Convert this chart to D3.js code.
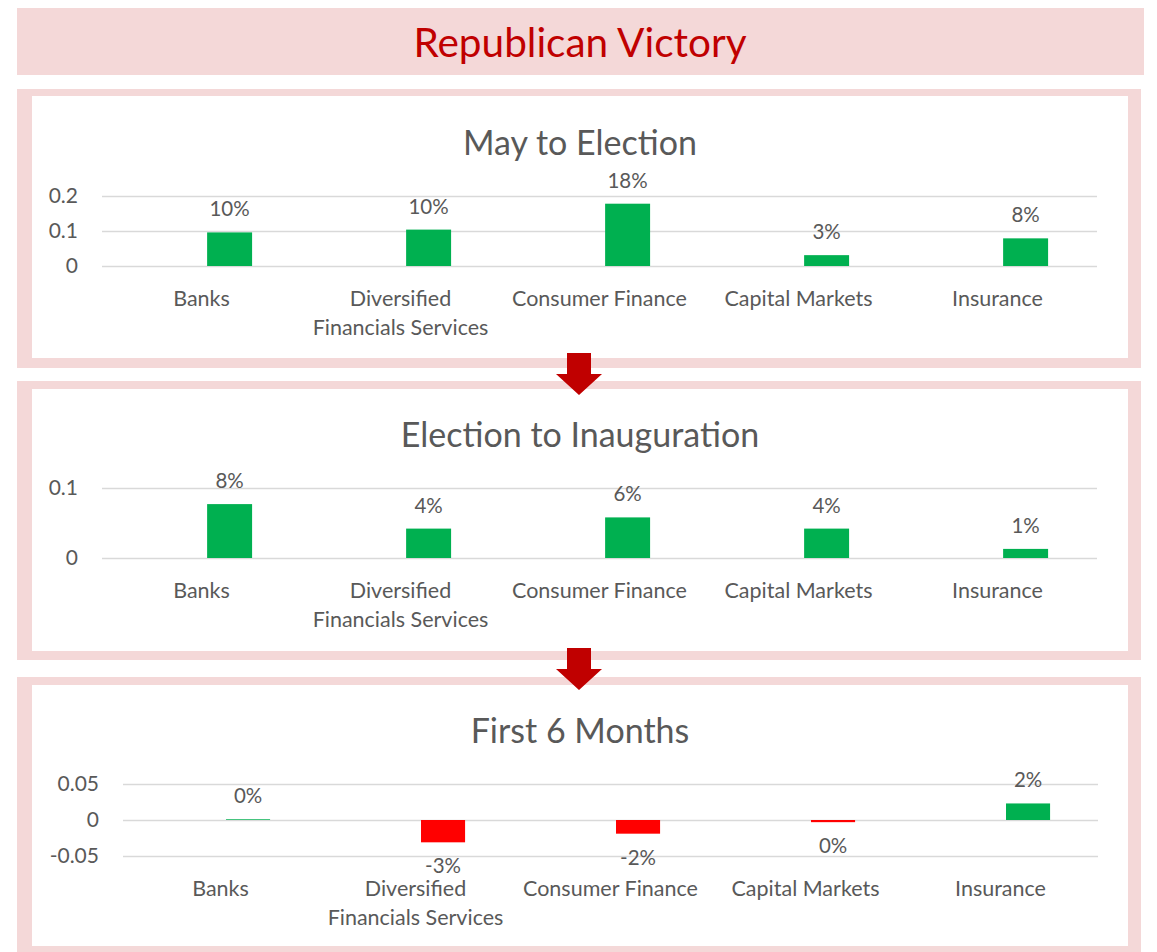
<!DOCTYPE html>
<html>
<head>
<meta charset="utf-8">
<script src="https://cdn.jsdelivr.net/npm/d3@7"></script>
<style>
  body { margin: 0; background: #fff; }
  svg text { font-family: Lato, "Open Sans", sans-serif; fill: #595959; }
</style>
</head>
<body>
<div id="chart"></div>
<script>
// categories and values
var categories = ["Banks", "Diversified Financials Services", "Consumer Finance", "Capital Markets", "Insurance"];
var mayToElection = [0.096, 0.104, 0.178, 0.031, 0.079];
var electionToInauguration = [0.077, 0.042, 0.058, 0.042, 0.013];
var firstSixMonths = [0.001, -0.031, -0.019, -0.003, 0.023];

var ticksMay = [0, 0.1, 0.2];
var ticksElection = [0, 0.1];
var ticksFirst = [-0.05, 0, 0.05];

var pageTitle = "Republican Victory";
var chartTitles = ["May to Election", "Election to Inauguration", "First 6 Months"];

var pink = "#f4d8d8",
    green = "#00b050",
    red = "#ff0000",
    grid = "#d9d9d9";

// hyphen minus like Excel
var loc = d3.formatLocale({ decimal: ".", thousands: ",", grouping: [3], currency: ["$", ""], minus: "-" });
var pct = loc.format(".0%"),
    num = loc.format(".2~f");

var svg = d3.select("#chart").append("svg")
    .attr("width", 1157)
    .attr("height", 952);

// page title box
svg.append("rect")
    .attr("x", 17).attr("y", 8)
    .attr("width", 1127).attr("height", 67)
    .attr("fill", pink);
svg.append("text")
    .attr("x", 580).attr("y", 41)
    .attr("text-anchor", "middle")
    .attr("dominant-baseline", "central")
    .style("font-size", "40.5px")
    .style("fill", "#c00000")
    .text(pageTitle);

// one panel per period
var panels = [
    { title: chartTitles[0], values: mayToElection, ticks: ticksMay, domain: [0, 0.2],
      box: [89, 279], inner: [96, 262], titleY: 141, yRange: [266, 196], xRange: [102, 1097] },
    { title: chartTitles[1], values: electionToInauguration, ticks: ticksElection, domain: [0, 0.1],
      box: [381, 279], inner: [389, 262], titleY: 433, yRange: [558, 488], xRange: [102, 1097] },
    { title: chartTitles[2], values: firstSixMonths, ticks: ticksFirst, domain: [-0.05, 0.05],
      box: [677, 280], inner: [685, 261], titleY: 729, yRange: [856, 784], xRange: [123, 1098] }
];

panels.forEach(drawPanel);

// arrows between the panels
[353, 648].forEach(function(top) {
    var cx = 579;
    svg.append("path")
        .attr("d", "M" + (cx - 12) + "," + top + "H" + (cx + 12) + "V" + (top + 21) + "H" + (cx + 23) +
            "L" + cx + "," + (top + 42) + "L" + (cx - 23) + "," + (top + 21) + "H" + (cx - 12) + "Z")
        .attr("fill", "#c00000");
});

function drawPanel(p) {
    svg.append("rect")
        .attr("x", 17).attr("y", p.box[0])
        .attr("width", 1124).attr("height", p.box[1])
        .attr("fill", pink);
    svg.append("rect")
        .attr("x", 32).attr("y", p.inner[0])
        .attr("width", 1096).attr("height", p.inner[1])
        .attr("fill", "#fff");

    svg.append("text")
        .attr("x", 580).attr("y", p.titleY)
        .attr("text-anchor", "middle")
        .attr("dominant-baseline", "central")
        .style("font-size", "34px")
        .text(p.title);

    var x = d3.scaleBand()
        .domain(categories)
        .range(p.xRange);

    // an empty series sits left of the real one, like the Excel clustered bars
    var inner = d3.scaleBand()
        .domain(["blank", "value"])
        .range([0, x.bandwidth()])
        .paddingInner(0.2)
        .paddingOuter(0.87);

    var y = d3.scaleLinear()
        .domain(p.domain)
        .range(p.yRange);

    var w = p.xRange[1] - p.xRange[0];

    // gridlines + tick labels
    var yAxis = svg.append("g")
        .attr("transform", "translate(" + p.xRange[0] + ",0)")
        .call(d3.axisLeft(y).tickValues(p.ticks).tickFormat(num).tickSize(-w).tickPadding(24));
    yAxis.select(".domain").remove();
    yAxis.selectAll("line").attr("stroke", grid).attr("stroke-width", 1.3);
    yAxis.selectAll("text")
        .attr("fill", null)
        .style("font-size", "21px")
        .style("font-family", "Lato, sans-serif");

    // category labels at the bottom of the plot
    var xAxis = svg.append("g")
        .attr("transform", "translate(0," + p.yRange[0] + ")")
        .call(d3.axisBottom(x).tickSize(0).tickPadding(0));
    xAxis.select(".domain").remove();
    xAxis.selectAll("text")
        .attr("fill", null)
        .attr("y", 0)
        .attr("dy", null)
        .style("font-size", "21.5px")
        .style("font-family", "Lato, sans-serif")
        .each(function(d) {
            var t = d3.select(this).text("");
            var lines = d === "Diversified Financials Services" ? ["Diversified", "Financials Services"] : [d];
            lines.forEach(function(line, i) {
                t.append("tspan")
                    .attr("x", 0)
                    .attr("y", 32 + i * 29)
                    .attr("dominant-baseline", "central")
                    .text(line);
            });
        });

    var bars = svg.append("g");
    bars.selectAll("rect")
        .data(p.values)
        .enter().append("rect")
        .attr("x", function(d, i) { return x(categories[i]) + inner("value"); })
        .attr("width", inner.bandwidth())
        .attr("y", function(d) { return y(Math.max(0, d)); })
        .attr("height", function(d) { return Math.abs(y(d) - y(0)); })
        .attr("fill", function(d) { return d < 0 ? red : green; });

    bars.selectAll("text")
        .data(p.values)
        .enter().append("text")
        .attr("x", function(d, i) { return x(categories[i]) + inner("value") + inner.bandwidth() / 2; })
        .attr("y", function(d) { return d < 0 ? y(d) + 23 : y(d) - 24; })
        .attr("text-anchor", "middle")
        .attr("dominant-baseline", "central")
        .style("font-size", "20.5px")
        .text(function(d) { return pct(d); });
}
</script>
</body>
</html>
